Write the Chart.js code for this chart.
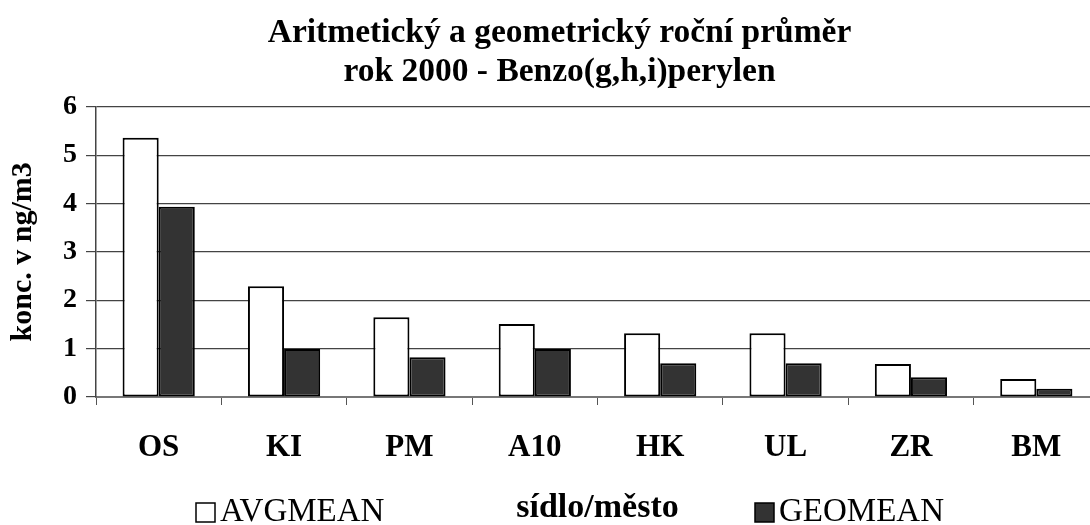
<!DOCTYPE html>
<html>
<head>
<meta charset="utf-8">
<script src="https://cdn.jsdelivr.net/npm/chart.js@4/dist/chart.umd.min.js"></script>
<style>
  html, body { margin: 0; padding: 0; background: #fff; overflow: hidden; }
  #wrap { width: 1100px; height: 525px; }
</style>
</head>
<body>
<div id="wrap"><canvas id="chart" width="1100" height="525"></canvas></div>
<script>
const categories = ["OS", "KI", "PM", "A10", "HK", "UL", "ZR", "BM"];
const avgMean = [5.36, 2.29, 1.65, 1.51, 1.32, 1.32, 0.68, 0.37];
const geoMean = [3.93, 0.99, 0.82, 0.99, 0.70, 0.70, 0.41, 0.17];
const yTicks = [0, 1, 2, 3, 4, 5, 6];

const serif = "'Liberation Serif', 'Times New Roman', serif";

// legend sits on the same row as the x axis title
const legendRow = {
  id: "legendRow",
  afterDraw(chart) {
    const ctx = chart.ctx;
    const base = 521;
    const items = [
      { x: 196, text: "AVGMEAN", fill: "#ffffff" },
      { x: 755, text: "GEOMEAN", fill: "#333333" }
    ];
    ctx.save();
    ctx.font = "33px " + serif;
    ctx.textBaseline = "alphabetic";
    items.forEach(it => {
      ctx.fillStyle = it.fill;
      ctx.fillRect(it.x, 503, 19, 19);
      ctx.lineWidth = 1.5;
      ctx.strokeStyle = "#000";
      ctx.strokeRect(it.x, 503, 19, 19);
      ctx.fillStyle = "#000";
      ctx.fillText(it.text, it.x + 24, base);
    });
    ctx.restore();
  }
};

new Chart(document.getElementById("chart"), {
  type: "bar",
  data: {
    labels: categories,
    datasets: [
      {
        label: "AVGMEAN",
        data: avgMean,
        backgroundColor: "#ffffff",
        borderColor: "#000000",
        borderWidth: 2,
        borderSkipped: false
      },
      {
        label: "GEOMEAN",
        data: geoMean,
        backgroundColor: "#333333",
        borderColor: "#000000",
        borderWidth: 2,
        borderSkipped: false
      }
    ]
  },
  options: {
    responsive: false,
    animation: false,
    devicePixelRatio: 1,
    categoryPercentage: 0.576,
    barPercentage: 1.0,
    // left padding pushes the title centre to the right; y axis width makes up for it
    layout: { padding: { left: 20, right: 1, top: 0, bottom: 0 } },
    scales: {
      x: {
        offset: true,
        afterFit: s => { s.height = 128; },
        grid: {
          offset: true,
          drawOnChartArea: false,
          drawTicks: true,
          tickLength: 8,
          color: "#555"
        },
        border: { color: "#777", width: 2 },
        ticks: {
          color: "#000",
          padding: 24,
          font: { family: serif, size: 31, weight: "bold", lineHeight: 1.2 }
        },
        title: {
          display: true,
          text: "sídlo/město",
          color: "#000",
          padding: { top: 0, bottom: 0 },
          font: { family: serif, size: 34, weight: "bold", lineHeight: 1.0 }
        }
      },
      y: {
        min: 0,
        max: 6,
        afterFit: s => { s.width = 76; },
        afterBuildTicks: s => { s.ticks = yTicks.map(v => ({ value: v })); },
        grid: {
          color: "#444",
          lineWidth: 1.2,
          tickLength: 10
        },
        border: { color: "#444", width: 1.5 },
        ticks: {
          color: "#000",
          padding: 9,
          font: { family: serif, size: 28, weight: "bold", lineHeight: 1.2 }
        },
        title: {
          display: true,
          text: "konc. v ng/m3",
          color: "#000",
          padding: { top: 2, bottom: 0 },
          font: { family: serif, size: 30, weight: "bold", lineHeight: 0.1 }
        }
      }
    },
    plugins: {
      legend: { display: false },
      tooltip: { enabled: false },
      title: {
        display: true,
        text: ["Aritmetický a geometrický roční průměr", "rok 2000 - Benzo(g,h,i)perylen"],
        color: "#000",
        padding: { top: 13, bottom: 14 },
        font: { family: serif, size: 33.5, weight: "bold", lineHeight: 1.19 }
      }
    }
  },
  plugins: [legendRow]
});
</script>
</body>
</html>
